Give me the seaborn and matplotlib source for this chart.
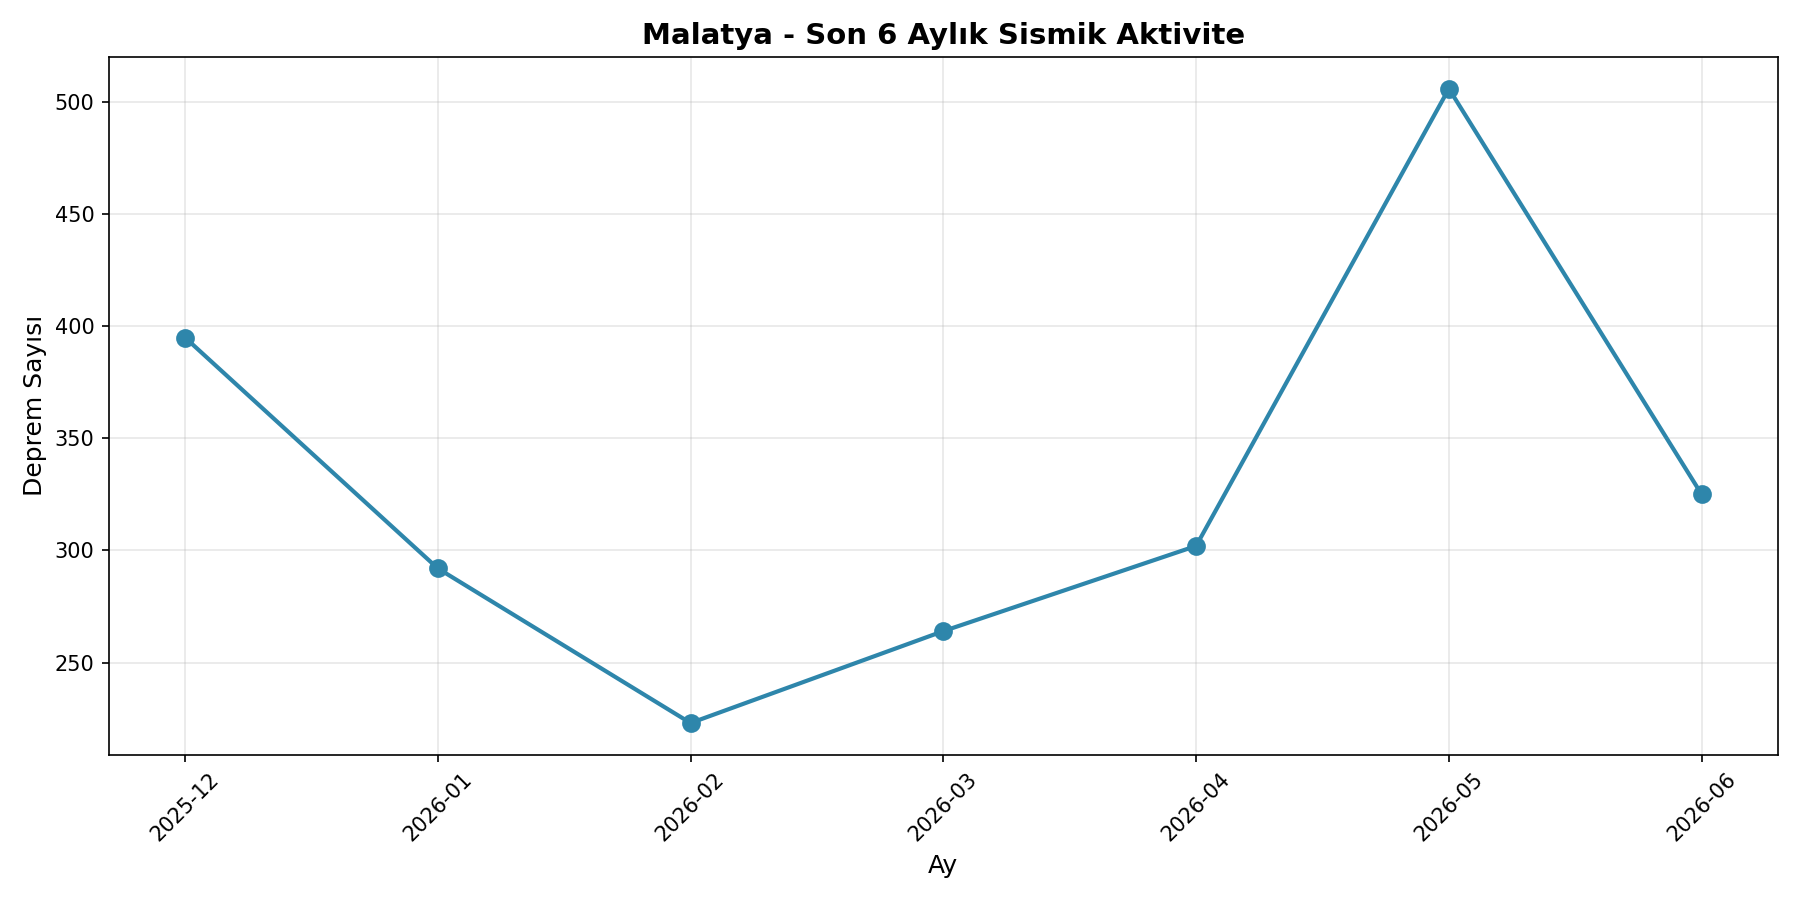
import matplotlib
matplotlib.use("Agg")
import matplotlib.pyplot as plt
import pandas as pd
import seaborn as sns

# aylik deprem sayilari
aylar = ["2025-12", "2026-01", "2026-02", "2026-03", "2026-04", "2026-05", "2026-06"]
deprem_sayisi = [395, 292, 223, 264, 302, 506, 325]

df = pd.DataFrame({"Ay": aylar, "Deprem Sayısı": deprem_sayisi})

renk = "#2E86AB"
fig, ax = plt.subplots(figsize=(12, 6), dpi=150)
sns.lineplot(
    data=df,
    x="Ay",
    y="Deprem Sayısı",
    marker="o",
    markersize=8,
    markeredgecolor=renk,
    markeredgewidth=1,
    linewidth=2,
    color=renk,
    ax=ax,
)
ax.set_title("Malatya - Son 6 Aylık Sismik Aktivite", fontsize=14, fontweight="bold")
ax.set_xlabel("Ay", fontsize=12)
ax.set_ylabel("Deprem Sayısı", fontsize=12)
ax.grid(True, alpha=0.3)
plt.xticks(rotation=45)
plt.tight_layout()
plt.savefig("out.png", dpi=150)
